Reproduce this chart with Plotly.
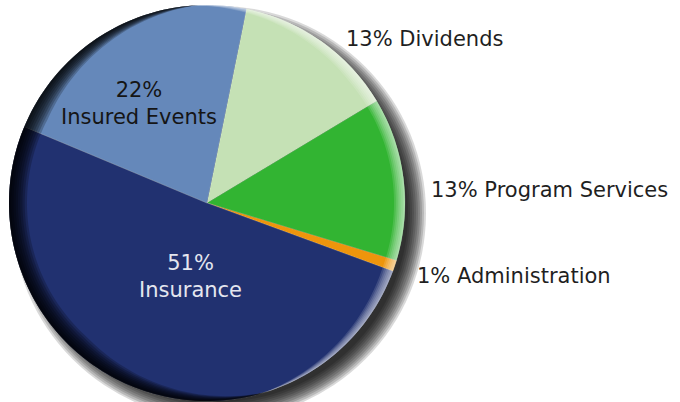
import math
import plotly.graph_objects as go

# ---- data ----
labels = ["Dividends", "Program Services", "Administration", "Insurance", "Insured Events"]
values = [13.2, 13.3, 0.9, 50.7, 21.9]
colors = ["#c5e1b5", "#32b432", "#ee950c", "#213170", "#6588ba"]

W, H = 680, 402
CX, CY, R = 207, 203, 198


def X(px):
    return px / W


def Y(py):
    return 1 - py / H


fig = go.Figure()
fig.add_trace(go.Pie(
    labels=labels, values=values, sort=False, direction="clockwise", rotation=11.5,
    marker=dict(colors=colors, line=dict(color="rgba(255,255,255,0.25)", width=0.6)),
    textinfo="none", hoverinfo="label+percent", showlegend=False,
    domain=dict(x=[X(CX - R), X(CX + R)], y=[Y(CY + R), Y(CY - R)]),
))

shapes = []
# drop shadow (blurred by stacking)
SDX, SDY = 12, 10
for i in range(10):
    r = R + 9 - 2 * i
    shapes.append(dict(type="circle", xref="paper", yref="paper", layer="below",
                       x0=X(CX + SDX - r), x1=X(CX + SDX + r),
                       y0=Y(CY + SDY + r), y1=Y(CY + SDY - r),
                       fillcolor="rgba(0,0,0,0.15)", line=dict(width=0)))


def ring_path(thick_fn, start_deg, n=240):
    outer, inner = [], []
    for k in range(n + 1):
        th = math.radians(start_deg + 360.0 * k / n)
        t = thick_fn(th)
        outer.append((CX + R * math.cos(th), CY - R * math.sin(th)))
        ri = R - t
        inner.append((CX + ri * math.cos(th), CY - ri * math.sin(th)))
    pts = outer + inner[::-1]
    d = "M " + " L ".join(f"{X(px):.5f},{Y(py):.5f}" for px, py in pts) + " Z"
    return d


LIGHT = math.radians(10)


def dark_s(th):
    return max(0.0, -math.cos(th - LIGHT) + 0.12)


def light_s(th):
    return max(0.0, math.cos(th - LIGHT) - 0.1)


KD = 8
for k in range(1, KD + 1):
    wmax = 18 * k / KD
    shapes.append(dict(type="path", xref="paper", yref="paper", layer="above",
                       path=ring_path(lambda th, w=wmax: w * min(1.0, dark_s(th) * 1.1), 10),
                       fillcolor="rgba(0,0,0,0.21)", line=dict(width=0)))
KL = 6
for k in range(1, KL + 1):
    wmax = 11 * k / KL
    shapes.append(dict(type="path", xref="paper", yref="paper", layer="above",
                       path=ring_path(lambda th, w=wmax: w * min(1.0, light_s(th) * 1.3), 190),
                       fillcolor="rgba(255,255,255,0.13)", line=dict(width=0)))

FONT = "DejaVu Sans"
pct = [f"{round(v)}%" for v in values]
# label positions (pixels) and styles
inside = {"Insured Events": (139, 104, "#151515"), "Insurance": (190, 276, "#e4e6ef")}
outside = {"Dividends": (424, 39), "Program Services": (549, 190), "Administration": (514, 276)}
annotations = []
for lab, p in zip(labels, pct):
    if lab in inside:
        x, y, c = inside[lab]
        annotations.append(dict(x=X(x), y=Y(y), xref="paper", yref="paper", showarrow=False,
                                text=f"{p}<br>{lab}", font=dict(family=FONT, size=21, color=c),
                                xanchor="center", yanchor="middle"))
    else:
        x, y = outside[lab]
        annotations.append(dict(x=X(x), y=Y(y), xref="paper", yref="paper", showarrow=False,
                                text=f"{p} {lab}", font=dict(family=FONT, size=21, color="#1f1f1f"),
                                xanchor="center", yanchor="middle"))

fig.update_layout(width=W, height=H, margin=dict(l=0, r=0, t=0, b=0),
                  paper_bgcolor="white", plot_bgcolor="white",
                  shapes=shapes, annotations=annotations)
fig.write_html("out.html", config={"displayModeBar": False},
               post_script="document.body.style.margin='0';document.body.style.overflow='hidden';")
